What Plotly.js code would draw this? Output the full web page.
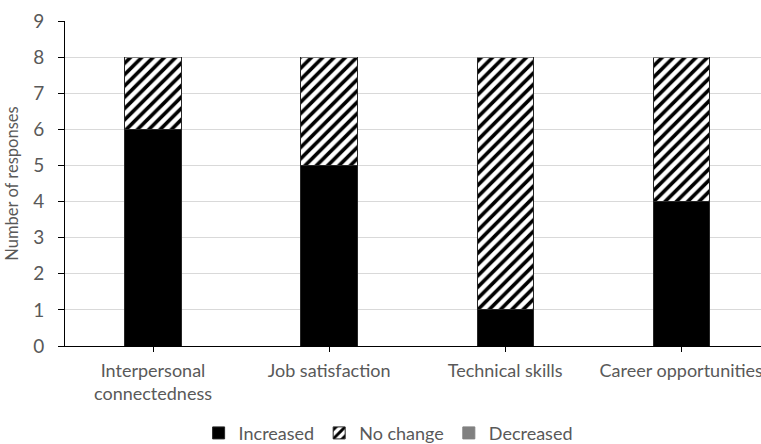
<!DOCTYPE html>
<html>
<head>
<meta charset="utf-8">
<script src="https://cdn.plot.ly/plotly-3.0.1.min.js"></script>
<style>html,body{margin:0;padding:0;background:#fff;}#chart{width:761px;height:444px;}</style>
</head>
<body>
<div id="chart"></div>
<script>
const categories = ["Interpersonal<br>connectedness", "Job satisfaction", "Technical skills", "Career opportunities"];
const increased = [6, 5, 1, 4];
const noChange = [2, 3, 7, 4];
const decreased = [0, 0, 0, 0];
const yTicks = [0, 1, 2, 3, 4, 5, 6, 7, 8, 9];

const FONT = "Lato, 'Open Sans', sans-serif";
const lineStyle = {color: '#262626', width: 1};

const traces = [
  {type: 'bar', name: 'Increased', x: categories, y: increased,
   marker: {color: '#000000', line: lineStyle}},
  {type: 'bar', name: 'No change', x: categories, y: noChange,
   marker: {color: '#ffffff', line: lineStyle,
            pattern: {shape: '/', fgcolor: '#000000', bgcolor: '#ffffff', size: 8, solidity: 0.45}}},
  {type: 'bar', name: 'Decreased', x: categories, y: decreased,
   marker: {color: '#808080', line: {color: '#808080', width: 1}}}
];

const layout = {
  width: 761, height: 444,
  barmode: 'stack',
  bargap: 0.68,
  margin: {l: 65, r: 0, t: 21, b: 98},
  paper_bgcolor: '#ffffff', plot_bgcolor: '#ffffff',
  font: {family: FONT, color: '#595959', size: 18},
  xaxis: {
    range: [-0.5, 3.453],
    showline: true, linecolor: '#000000', linewidth: 1,
    ticks: 'outside', ticklen: 5, tickcolor: '#000000',
    tickfont: {size: 18, color: '#595959'},
    ticklabelstandoff: 3,
    showgrid: false, zeroline: false, fixedrange: true
  },
  yaxis: {
    range: [0, 9],
    tickvals: yTicks,
    showline: true, linecolor: '#000000', linewidth: 1,
    ticks: 'outside', ticklen: 6, tickcolor: '#000000',
    tickfont: {size: 19, color: '#595959'},
    ticklabelstandoff: 10,
    showgrid: true, gridcolor: '#d9d9d9', gridwidth: 1,
    zeroline: false,
    title: {text: 'Number of responses', font: {size: 16.5, color: '#595959'}, standoff: 10}
  },
  legend: {
    orientation: 'h', xref: 'container', yref: 'container',
    x: 0.51, xanchor: 'center', y: 0.066, yanchor: 'top',
    font: {size: 18, color: '#595959'},
    traceorder: 'normal', itemwidth: 30
  },
  showlegend: true
};

Plotly.newPlot('chart', traces, layout, {displayModeBar: false, staticPlot: true});
</script>
</body>
</html>
